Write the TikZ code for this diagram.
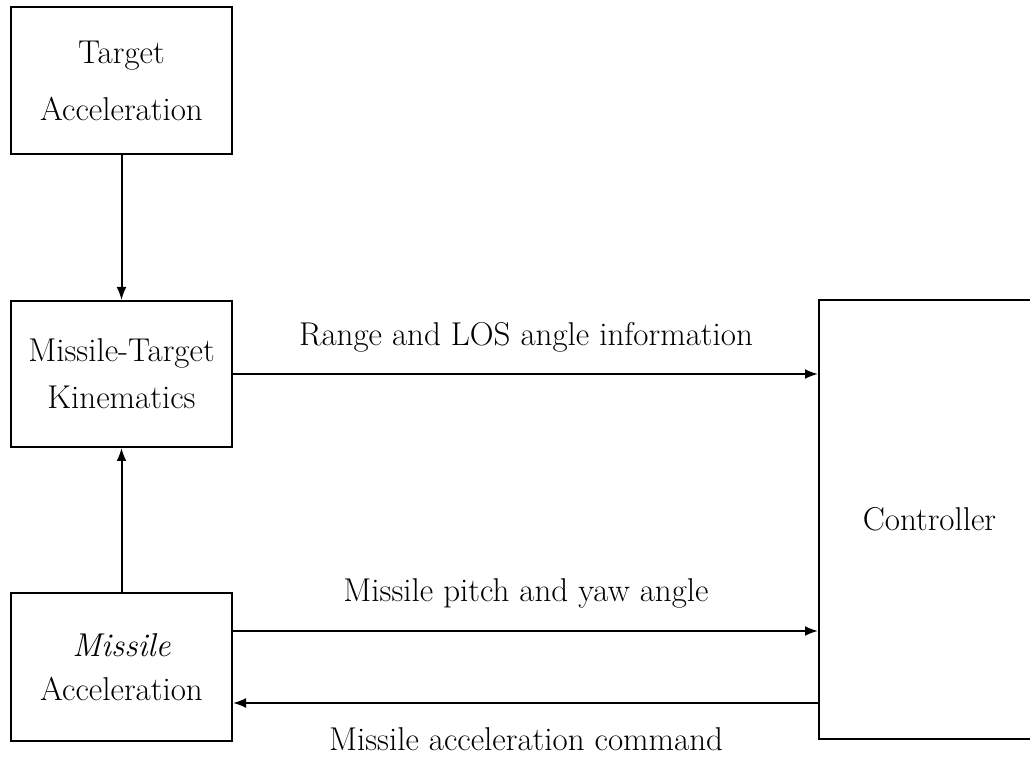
\documentclass[tikz,border=0pt]{standalone}
\usetikzlibrary{arrows.meta}
\begin{document}
\begin{tikzpicture}[x=0.5pt,y=-0.5pt,
  blk/.style={draw,line width=1pt,inner sep=0pt,align=center,
    font=\fontsize{16.5}{22}\selectfont},
  arr/.style={line width=1pt,-{Latex[length=6.5pt,width=5pt]}},
  lbl/.style={anchor=base,inner sep=0pt,font=\fontsize{16.5}{22}\selectfont}]
\useasboundingbox (0,0) rectangle (1030,758);
\node[blk,minimum width=110.5pt,minimum height=73.5pt] (TA) at (121.5,80.5) {Target\\[6.5pt]Acceleration};
\node[blk,minimum width=110.5pt,minimum height=73pt] (MTK) at (121.5,374) {Missile-Target\\[1.5pt]Kinematics};
\node[blk,minimum width=110.5pt,minimum height=74pt] (MA) at (121.5,667) {\textit{Missile}\\Acceleration};
\node[blk,minimum width=110.5pt,minimum height=219.5pt] (Ctrl) at (929.5,519.5) {Controller};
\coordinate (py) at (0,631);
\coordinate (cy) at (0,703);
\draw[arr] (TA.south) -- (MTK.north);
\draw[arr] (MA.north) -- (MTK.south);
\draw[arr] (MTK.east) -- (MTK.east -| Ctrl.west);
\draw[arr] (MA.east |- py) -- (Ctrl.west |- py);
\draw[arr] (Ctrl.west |- cy) -- (MA.east |- cy);
\node[lbl] (l1) at (526,346) {Range and LOS angle information};
\node[lbl] (l2) at (526,602) {Missile pitch and yaw angle};
\node[lbl] (l3) at (526,751) {Missile acceleration command};
\end{tikzpicture}
\end{document}
